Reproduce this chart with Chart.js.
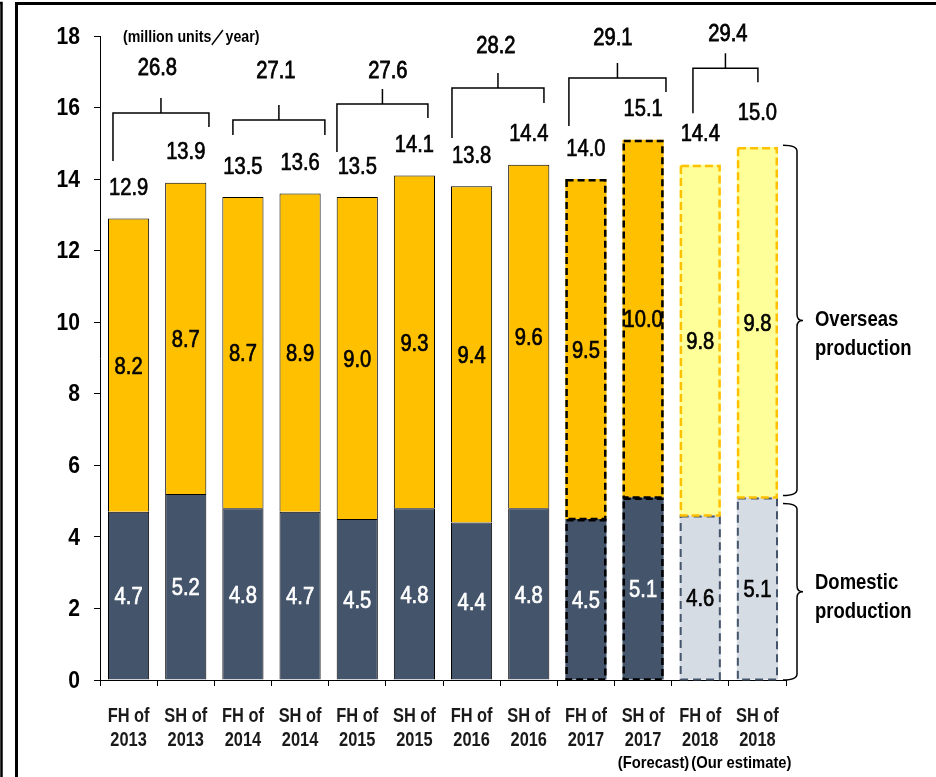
<!DOCTYPE html>
<html><head><meta charset="utf-8">
<style>html,body{margin:0;padding:0;background:#fff;}canvas{display:block;}</style>
<script src="https://cdn.jsdelivr.net/npm/chart.js@4.4.1/dist/chart.umd.min.js"></script>
</head><body>
<canvas id="c" width="936" height="777"></canvas>
<script>
// ---------- data ----------
const categories = [["FH of","2013"],["SH of","2013"],["FH of","2014"],["SH of","2014"],["FH of","2015"],["SH of","2015"],["FH of","2016"],["SH of","2016"],["FH of","2017"],["SH of","2017"],["FH of","2018"],["SH of","2018"]];
const domestic   = [4.7, 5.2, 4.8, 4.7, 4.5, 4.8, 4.4, 4.8, 4.5, 5.1, 4.6, 5.1];
const overseas   = [8.2, 8.7, 8.7, 8.9, 9.0, 9.3, 9.4, 9.6, 9.5, 10.0, 9.8, 9.8];
const halfTotals = [12.9, 13.9, 13.5, 13.6, 13.5, 14.1, 13.8, 14.4, 14.0, 15.1, 14.4, 15.0];
const yearTotals = [26.8, 27.1, 27.6, 28.2, 29.1, 29.4];
const yTicks     = [0, 2, 4, 6, 8, 10, 12, 14, 16, 18];
const unitLabel  = "(million units／year)";
const noteLabels = ["(Forecast)", "(Our estimate)"];
const braceLabels = [["Overseas", "production"], ["Domestic", "production"]];
const seriesNames = ["Domestic production", "Overseas production"];

// ---------- styling / layout (not data) ----------
const FONT = "'Liberation Sans', Arial, sans-serif";
const C_DOM = '#44546A', C_OVR = '#FFC000', C_DOM_EST = '#D6DCE4', C_OVR_EST = '#FFFF99';
const FORECAST_FROM = 8, ESTIMATE_FROM = 10;
const bracketLayout = [
  {dxL:-15.6, dxR:23.2, hOff:69.7, dropL:48, dropR:14, lblDx:-3.5, lblUp:30},
  {dxL:-10.0, dxR:24.8, hOff:73.4, dropL:15, dropR:15, lblDx:-3.0, lblUp:34},
  {dxL:-20.3, dxR:13.5, hOff:71.5, dropL:48, dropR:14, lblDx:5.5,  lblUp:18},
  {dxL:-19.6, dxR:15.2, hOff:76.8, dropL:50, dropR:15, lblDx:-2.0, lblUp:27},
  {dxL:-17.0, dxR:22.9, hOff:61.7, dropL:48, dropR:14, lblDx:-4.5, lblUp:25},
  {dxL:-7.3,  dxR:0.5,  hOff:75.0, dropL:45, dropR:14, lblDx:2.5,  lblUp:19}
];

function domFill(i){ return i >= ESTIMATE_FROM ? C_DOM_EST : C_DOM; }
function ovrFill(i){ return i >= ESTIMATE_FROM ? C_OVR_EST : C_OVR; }
function solidBorder(i){ return i >= FORECAST_FROM ? 0 : 1; }
function dashStyle(i){
  if (i >= ESTIMATE_FROM) return {dom:{c:C_DOM, w:2, dash:[8,5]}, ovr:{c:C_OVR, w:2.5, dash:[8,4]}};
  if (i >= FORECAST_FROM) return {dom:{c:'#000', w:2.5, dash:[7,4]}, ovr:{c:'#000', w:2.5, dash:[7,4]}};
  return null;
}
// condensed text: real text, horizontally scaled; optional light stroke to thicken
function txt(ctx, s, x, y, align, sx, thick){
  ctx.save(); ctx.translate(x, y); ctx.scale(sx, 1); ctx.textAlign = align;
  ctx.fillText(s, 0, 0);
  if (thick){ ctx.lineWidth = thick; ctx.strokeStyle = ctx.fillStyle; ctx.strokeText(s, 0, 0); }
  ctx.restore();
}

const annot = {
  id: 'annot',
  beforeDraw(chart){
    const ctx = chart.ctx; ctx.save(); ctx.fillStyle = '#fff'; ctx.fillRect(0,0,chart.width,chart.height); ctx.restore();
  },
  afterDatasetsDraw(chart){
    const ctx = chart.ctx, xs = chart.scales.x, ys = chart.scales.y, ca = chart.chartArea;
    const m0 = chart.getDatasetMeta(0), m1 = chart.getDatasetMeta(1);
    const n = categories.length;
    // dashed borders for forecast / estimate bars
    for (let i = 0; i < n; i++){
      const st = dashStyle(i); if (!st) continue;
      [[m0, st.dom], [m1, st.ovr]].forEach(([m, s]) => {
        const p = m.data[i].getProps(['x','y','base','width'], true);
        const top = Math.min(p.y, p.base), bot = Math.max(p.y, p.base);
        ctx.save();
        ctx.setLineDash(s.dash); ctx.lineWidth = s.w; ctx.strokeStyle = s.c;
        ctx.strokeRect(p.x - p.width/2 + s.w/2, top + s.w/2, p.width - s.w, bot - top - s.w/2);
        ctx.restore();
      });
    }
    ctx.save();
    ctx.textBaseline = 'middle';
    // axis tick labels
    ctx.fillStyle = '#000';
    ctx.font = `bold 24px ${FONT}`;
    yTicks.forEach(v => txt(ctx, String(v), ca.left - 20, ys.getPixelForValue(v) + 1, 'right', 0.88));
    ctx.fillStyle = '#1a1a1a';
    ctx.font = `bold 20px ${FONT}`;
    categories.forEach((lines, i) => {
      const cx = xs.getPixelForValue(i);
      lines.forEach((s, j) => txt(ctx, s, cx, 716 + 24*j, 'center', 0.82));
    });
    // value labels
    ctx.font = `24px ${FONT}`;
    for (let i = 0; i < n; i++){
      const pd = m0.data[i].getProps(['x','y','base'], true);
      const po = m1.data[i].getProps(['x','y','base'], true);
      ctx.fillStyle = i >= ESTIMATE_FROM ? '#000' : '#fff';
      txt(ctx, domestic[i].toFixed(1), pd.x, (pd.y + pd.base)/2 + 2, 'center', 0.84, 0.7);
      ctx.fillStyle = '#000';
      txt(ctx, overseas[i].toFixed(1), po.x, (po.y + po.base)/2 + 2, 'center', 0.84, 0.7);
      txt(ctx, halfTotals[i].toFixed(1), po.x, ys.getPixelForValue(halfTotals[i]) - 30, 'center', 0.84, 0.7);
    }
    // year brackets
    ctx.strokeStyle = '#000'; ctx.lineWidth = 1.5;
    yearTotals.forEach((t, k) => {
      const L = bracketLayout[k];
      const a = 2*k, b = 2*k + 1;
      const xl = xs.getPixelForValue(a) + L.dxL, xr = xs.getPixelForValue(b) + L.dxR;
      const hy = ys.getPixelForValue(Math.max(halfTotals[a], halfTotals[b])) - L.hOff;
      const xm = (xl + xr)/2;
      ctx.beginPath();
      ctx.moveTo(xl, hy + L.dropL); ctx.lineTo(xl, hy); ctx.lineTo(xr, hy); ctx.lineTo(xr, hy + L.dropR);
      ctx.moveTo(xm, hy); ctx.lineTo(xm, hy - 15);
      ctx.stroke();
      txt(ctx, t.toFixed(1), xm + L.lblDx, hy - 15 - L.lblUp, 'center', 0.84, 0.8);
    });
    // braces on the right (span the last bar's segments)
    const last = n - 1;
    const x0 = ca.right - 3, x1 = ca.right + 11, x2 = ca.right + 17, r = 6;
    ctx.lineWidth = 1.5;
    const brace = (top, bot) => {
      const mid = (top + bot)/2;
      ctx.beginPath();
      ctx.moveTo(x0, top); ctx.quadraticCurveTo(x1, top, x1, top + r);
      ctx.lineTo(x1, mid - r); ctx.quadraticCurveTo(x1, mid, x2, mid);
      ctx.quadraticCurveTo(x1, mid, x1, mid + r);
      ctx.lineTo(x1, bot - r); ctx.quadraticCurveTo(x1, bot, x0, bot);
      ctx.stroke();
      return mid;
    };
    const yDomTop = ys.getPixelForValue(domestic[last]);
    const midO = brace(ys.getPixelForValue(halfTotals[last]) + 2, yDomTop - 2);
    const midD = brace(yDomTop + 6, ys.getPixelForValue(0));
    ctx.font = `bold 22px ${FONT}`;
    txt(ctx, braceLabels[0][0], ca.right + 29, midO, 'left', 0.84);
    txt(ctx, braceLabels[0][1], ca.right + 29, midO + 29, 'left', 0.84);
    txt(ctx, braceLabels[1][0], ca.right + 29, midD - 9, 'left', 0.84);
    txt(ctx, braceLabels[1][1], ca.right + 29, midD + 20, 'left', 0.84);
    // unit label
    ctx.font = `bold 17px ${FONT}`;
    txt(ctx, unitLabel, ca.left + 23, ys.getPixelForValue(18) + 1, 'left', 0.835);
    // notes under the axis
    ctx.font = `bold 17px ${FONT}`;
    txt(ctx, noteLabels[0], xs.getPixelForValue(ESTIMATE_FROM) - 11, 763, 'right', 0.87);
    txt(ctx, noteLabels[1], xs.getPixelForValue(ESTIMATE_FROM) - 9, 763, 'left', 0.87);
    ctx.restore();
  },
  afterDraw(chart){
    const ctx = chart.ctx;
    ctx.save();
    ctx.strokeStyle = '#000'; ctx.lineWidth = 3;
    ctx.beginPath();
    ctx.moveTo(16.5, chart.height); ctx.lineTo(16.5, 3.5); ctx.lineTo(chart.width, 3.5);
    ctx.stroke();
    ctx.lineWidth = 2.5;
    ctx.beginPath();
    ctx.moveTo(0, 3); ctx.lineTo(1.5, 3); ctx.lineTo(1.5, chart.height);
    ctx.stroke();
    ctx.restore();
  }
};

new Chart(document.getElementById('c'), {
  type: 'bar',
  data: {
    labels: categories,
    datasets: [
      { label: seriesNames[0], data: domestic,
        backgroundColor: domestic.map((_, i) => domFill(i)),
        borderColor: '#000', borderWidth: domestic.map((_, i) => solidBorder(i)) },
      { label: seriesNames[1], data: overseas,
        backgroundColor: overseas.map((_, i) => ovrFill(i)),
        borderColor: '#000', borderWidth: overseas.map((_, i) => solidBorder(i)) }
    ]
  },
  options: {
    responsive: false, animation: false, devicePixelRatio: 1,
    layout: { padding: { left: 0, right: 150, top: 36, bottom: 0 } },
    datasets: { bar: { categoryPercentage: 1.0, barPercentage: 0.72 } },
    plugins: { legend: { display: false }, tooltip: { enabled: false } },
    scales: {
      x: {
        stacked: true,
        grid: { display: true, drawOnChartArea: false, drawTicks: true, tickLength: 6, color: '#000', offset: true },
        border: { display: true, color: '#000', width: 1 },
        ticks: { display: false, autoSkip: false, maxRotation: 0 },
        afterFit(s){ s.height = 97; }
      },
      y: {
        stacked: true, min: 0, max: 18,
        grid: { drawOnChartArea: false, drawTicks: true, tickLength: 6, color: '#000' },
        border: { display: true, color: '#000', width: 1 },
        ticks: { display: false },
        afterBuildTicks(s){ s.ticks = yTicks.map(v => ({ value: v })); },
        afterFit(s){ s.width = 100; }
      }
    }
  },
  plugins: [annot]
});
</script>
</body></html>
